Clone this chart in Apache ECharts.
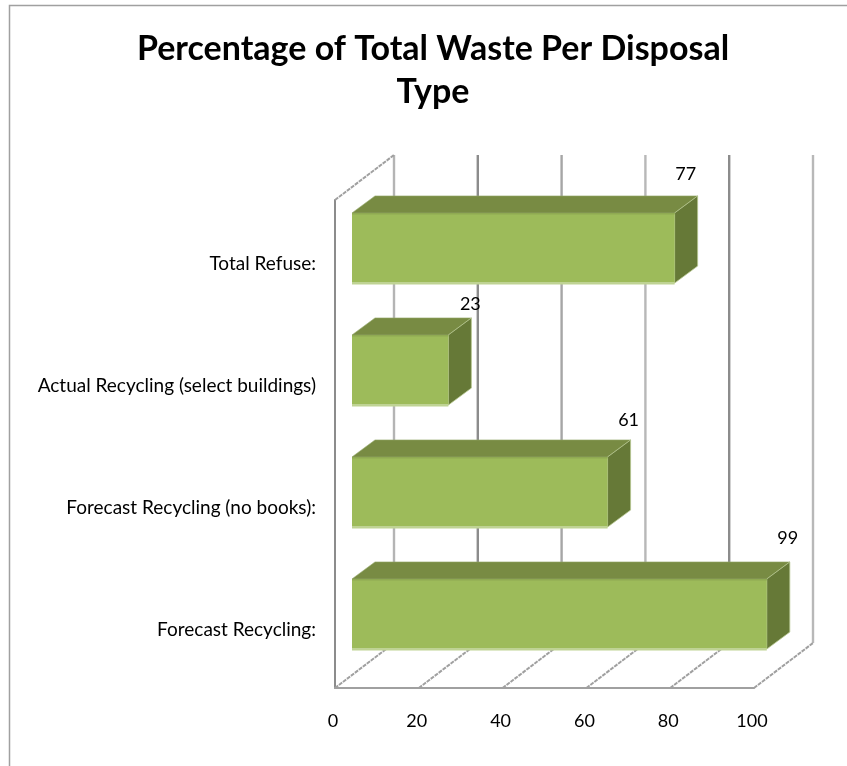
<!DOCTYPE html>
<html>
<head>
<meta charset="utf-8">
<style>html,body{margin:0;padding:0;background:#fff;overflow:hidden}#c{width:847px;height:766px}</style>
<script src="https://cdn.jsdelivr.net/npm/echarts@6/dist/echarts.min.js"></script>
</head>
<body>
<div id="c"></div>
<script>
const titleText = 'Percentage of Total Waste Per Disposal\nType';
const categories = ['Total Refuse:', 'Actual Recycling (select buildings)', 'Forecast Recycling (no books):', 'Forecast Recycling:'];
const values = [77, 23, 61, 99];
const xTicks = [0, 20, 40, 60, 80, 100];
const wallColors = ['#b4b4b4', '#8c8c8c', '#a6a6a6', '#b8b8b8', '#8c8c8c', '#b8b8b8'];
// Oblique projection used for the 3D look (pixels)
const WALL = [59, -45], BAR_SHIFT = [17, -13], BAR_DEPTH = [23, -17];
const labelNudge = [[-8, -1], [3, 7], [2, 1], [2, -3]];

const font = 'Lato';
const chart = echarts.init(document.getElementById('c'), null, {renderer: 'canvas'});

function poly(points, fill, stroke, lw) {
  return {type: 'polygon', shape: {points}, style: {fill, stroke: stroke || fill, lineWidth: lw === undefined ? 0.5 : lw}};
}
function seg(x1, y1, x2, y2, stroke, lineWidth, dash) {
  return {type: 'line', shape: {x1, y1, x2, y2}, style: {stroke, lineWidth, lineDash: dash || null}};
}

function renderWalls(params, api) {
  const cs = params.coordSys;
  const v = api.value(0), i = params.dataIndex;
  const x = api.coord([v, 0])[0];
  const top = cs.y, bot = cs.y + cs.height;
  const c = wallColors[i];
  const kids = [
    seg(x + WALL[0], top + WALL[1], x + WALL[0], bot + WALL[1], c, 2.4),
    seg(x, bot, x + WALL[0], bot + WALL[1], '#a0a0a0', 2, [4, 1])
  ];
  if (i === 0) kids.push(seg(x, top, x + WALL[0], top + WALL[1], '#a0a0a0', 2, [4, 1]));
  return {type: 'group', children: kids};
}

function renderBar(params, api) {
  const v = api.value(0), cat = api.value(1), i = params.dataIndex;
  const c0 = api.coord([0, cat]), c1 = api.coord([v, cat]);
  const h = api.size([0, 1])[1] * 0.575;
  const x0 = c0[0] + BAR_SHIFT[0], x1 = c1[0] + BAR_SHIFT[0];
  const y0 = c0[1] + BAR_SHIFT[1] - h / 2, y1 = y0 + h;
  const dx = BAR_DEPTH[0], dy = BAR_DEPTH[1];
  const n = labelNudge[i];
  return {type: 'group', children: [
    poly([[x0, y0], [x0 + dx, y0 + dy], [x1 + dx, y0 + dy], [x1, y0]], '#788B43', '#93A86A', 0.6),
    poly([[x1, y0], [x1 + dx, y0 + dy], [x1 + dx, y1 + dy], [x1, y1]], '#667937', '#B6C78F', 0.8),
    {type: 'rect', shape: {x: x0, y: y0, width: x1 - x0, height: h}, style: {fill: '#9DBB5A'}},
    {type: 'rect', shape: {x: x0, y: y0, width: x1 - x0, height: 1.5}, style: {fill: '#8FAA52'}},
    {type: 'rect', shape: {x: x0, y: y1 - 1, width: x1 - x0, height: 2.5}, style: {fill: '#BFD394'}},
    {type: 'text', style: {
      x: x1 + 19 + n[0], y: y0 - 38 + n[1], text: String(v),
      align: 'center', verticalAlign: 'middle', fill: '#000', font: '18px ' + font
    }}
  ]};
}

chart.setOption({
  animation: false,
  backgroundColor: '#fff',
  title: {
    text: titleText, left: 428, top: 23, textAlign: 'center',
    textStyle: {fontFamily: font, fontWeight: 'bold', fontSize: 34, lineHeight: 43, color: '#000'}
  },
  graphic: [
    {type: 'polyline', silent: true, z: 0, shape: {points: [[9.5, 780], [9.5, 5.5], [860, 5.5]]},
     style: {stroke: '#a0a0a0', lineWidth: 1.5, fill: null}}
  ],
  grid: {left: 335, right: 93, top: 200, bottom: 78, containLabel: false},
  xAxis: {
    type: 'value', min: 0, max: 100, interval: 20,
    axisLine: {show: true, onZero: false, lineStyle: {color: '#a0a0a0', width: 2}},
    axisTick: {show: false}, splitLine: {show: false},
    axisLabel: {margin: 24, padding: [0, 4, 0, 0], color: '#000', fontFamily: font, fontSize: 18, showMinLabel: true, showMaxLabel: true}
  },
  yAxis: {
    type: 'category', inverse: true, data: categories,
    axisLine: {show: true, lineStyle: {color: '#8c8c8c', width: 2}},
    axisTick: {show: false}, splitLine: {show: false},
    axisLabel: {margin: 19, verticalAlign: 'top', lineHeight: 6, color: '#000', fontFamily: font, fontSize: 19, interval: 0}
  },
  series: [
    {type: 'custom', name: 'walls', silent: true, clip: false, z: 1, renderItem: renderWalls,
     encode: {x: 0}, data: xTicks.map(t => [t])},
    {type: 'custom', name: 'Percentage', silent: true, clip: false, z: 3, renderItem: renderBar,
     encode: {x: 0, y: 1}, data: values.map((v, i) => [v, i])}
  ]
});
</script>
</body>
</html>
